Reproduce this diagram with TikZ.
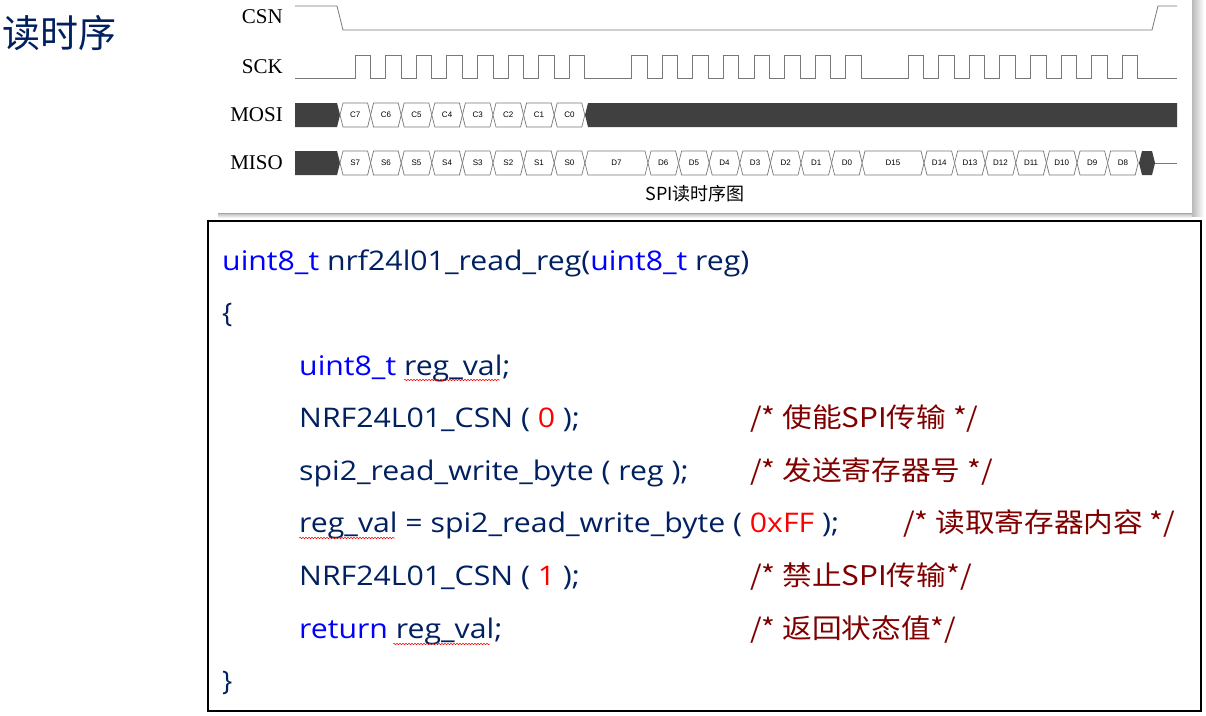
\documentclass[tikz,border=0pt]{standalone}
\usepackage{fontspec}
\setmainfont{Open Sans}
\newfontfamily\cjk{Noto Sans CJK SC}
\newfontfamily\serifl{Liberation Serif}
\newfontfamily\sansl{Liberation Sans}
\usetikzlibrary{decorations.pathmorphing}
\definecolor{navy}{RGB}{0,32,96}
\definecolor{kw}{RGB}{0,0,255}
\definecolor{num}{RGB}{255,0,0}
\definecolor{cmt}{RGB}{128,0,0}
\definecolor{sig}{RGB}{120,120,120}
\definecolor{blk}{RGB}{64,64,64}
\newcommand{\cell}[4]{% a b y label
  \draw[cellst] (#1,#3) -- ({#1+3},{#3-12}) -- ({#2-3},{#3-12}) -- (#2,#3) -- ({#2-3},{#3+12}) -- ({#1+3},{#3+12}) -- cycle;
  \node[celltxt] at ({(#1+#2)/2},#3) {#4};}
\newcommand{\cs}[1]{\scalebox{1.12}[1]{#1}}
\newcommand{\cm}[1]{\scalebox{1.1}[1]{#1}}
\tikzset{
  cellst/.style={draw=sig,fill=white,line width=0.7pt},
  celltxt/.style={font=\sansl\fontsize{8}{9}\selectfont,inner sep=0},
  wave/.style={draw=sig,line width=0.8pt},
  siglab/.style={font=\serifl\fontsize{21}{22}\selectfont,anchor=east,inner sep=0},
  code/.style={font=\fontsize{27}{30}\selectfont,text=navy,anchor=base west,inner sep=0},
  cmtst/.style={font=\cjk\fontsize{27}{30}\selectfont,text=cmt,anchor=base west,inner sep=0},
  squig/.style={draw=red,line width=0.5pt,decorate,decoration={snake,amplitude=0.8pt,segment length=3pt}}
}
\begin{document}
\begin{tikzpicture}[x=1pt,y=-1pt]
\useasboundingbox (0,0) rectangle (1206,715);
\fill[white] (0,0) rectangle (1206,715);
% panel
\shade[left color=gray!55,right color=white] (1192,0) rectangle (1204,216);
\shade[top color=gray!55,bottom color=white] (218,213) rectangle (1192,218);
\fill[white] (218,0) rectangle (1192,213);
\draw[gray!70,line width=0.8pt] (218,213) -- (1192,213);
\node[font=\cjk\fontsize{38}{40}\selectfont,text=navy,anchor=west,inner sep=0] (title) at (2,33) {读时序};
% labels
\node[siglab] (lcsn) at (283,17) {CSN};
\node[siglab] (lsck) at (283,67) {SCK};
\node[siglab] (lmosi) at (283,115) {MOSI};
\node[siglab] (lmiso) at (283,163) {MISO};
% CSN
\draw[wave] (295,6) -- (337,6) -- (343,30) -- (1152,30) -- (1158,6) -- (1177,6);
% SCK
\draw[wave] (295,78)
  \foreach \g in {355,631.5,908}{ \foreach \k in {0,...,7}{
   -- ({\g+\k*30.6},78) -- ({\g+\k*30.6},55) -- ({\g+\k*30.6+15.5},55) -- ({\g+\k*30.6+15.5},78) }}
  -- (1177,78);
% MOSI
\fill[blk] (295,103) -- (337,103) -- (340,115) -- (337,127) -- (295,127) -- cycle;
\foreach \l [count=\i from 0] in {C7,C6,C5,C4,C3,C2,C1,C0}{
  \cell{340+\i*30.6}{340+\i*30.6+30.6}{115}{\l}}
\fill[blk] (585,115) -- (588,103) -- (1177,103) -- (1177,127) -- (588,127) -- cycle;
% MISO
\fill[blk] (295,151) -- (337,151) -- (340,163) -- (337,175) -- (295,175) -- cycle;
\foreach \l [count=\i from 0] in {S7,S6,S5,S4,S3,S2,S1,S0}{
  \cell{340+\i*30.6}{340+\i*30.6+30.6}{163}{\l}}
\cell{585}{648}{163}{D7}
\foreach \l [count=\i from 0] in {D6,D5,D4,D3,D2,D1,D0}{
  \cell{648+\i*30.6}{648+\i*30.6+30.6}{163}{\l}}
\cell{862}{924}{163}{D15}
\foreach \l [count=\i from 0] in {D14,D13,D12,D11,D10,D9,D8}{
  \cell{924+\i*30.6}{924+\i*30.6+30.6}{163}{\l}}
\fill[blk] (1139,163) -- (1142,151) -- (1152,151) -- (1155,163) -- (1152,175) -- (1142,175) -- cycle;
\draw[wave] (1155,163) -- (1177,163);
\node[font=\cjk\fontsize{18}{19}\selectfont,inner sep=0] (cap) at (695,194) {SPI读时序图};
% code box
\draw[black,line width=1.6pt] (208,221) rectangle (1201,711);
\node[code] (l1) at (222,270) {\cs{{\color{kw}uint8\_t} nrf24l01\_read\_reg({\color{kw}uint8\_t} reg)}};
\node[code] (l2) at (222,322) {\{};
\node[code] (l3) at (299,375) {\cs{{\color{kw}uint8\_t} reg\_val;}};
\node[code] (l4) at (299,427) {\cs{NRF24L01\_CSN ( {\color{num}0} );}};
\node[cmtst] (c4) at (750,427) {\cm{/* 使能SPI传输 */}};
\node[code] (l5) at (299,480) {\cs{spi2\_read\_write\_byte ( reg );}};
\node[cmtst] (c5) at (750,480) {\cm{/* 发送寄存器号 */}};
\node[code] (l6) at (299,532) {\cs{reg\_val = spi2\_read\_write\_byte ( {\color{num}0xFF} );}};
\node[cmtst] (c6) at (903,532) {\cm{/* 读取寄存器内容 */}};
\node[code] (l7) at (299,585) {\cs{NRF24L01\_CSN ( {\color{num}1} );}};
\node[cmtst] (c7) at (750,585) {\cm{/* 禁止SPI传输*/}};
\node[code] (l8) at (299,638) {\cs{{\color{kw}return} reg\_val;}};
\node[cmtst] (c8) at (750,638) {\cm{/* 返回状态值*/}};
\node[code] (l9) at (222,690) {\}};
\draw[squig] (404,380) -- (500,380);
\draw[squig] (299,538) -- (395,538);
\draw[squig] (393,644) -- (490,644);
\end{tikzpicture}
\end{document}
